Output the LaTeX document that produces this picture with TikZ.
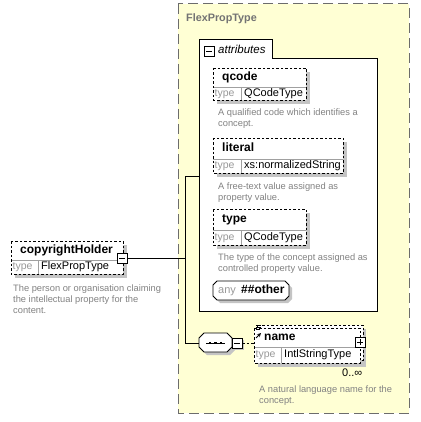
\documentclass[tikz,border=0pt]{standalone}
\usepackage{fontspec}
\setmainfont{Liberation Sans}
\definecolor{ylw}{HTML}{FFFFD4}
\definecolor{shd}{HTML}{C4C4C4}
\definecolor{desc}{HTML}{828282}
\definecolor{typel}{HTML}{999999}
\definecolor{divl}{HTML}{A0A0A0}
\tikzset{
  ebord/.style={draw=black, line width=0.8pt, dash pattern=on 2.5pt off 2pt},
  divline/.style={draw=divl, line width=0.7pt},
  shadowfill/.style={fill=shd, draw=none},
  ttl/.style={inner sep=0pt, anchor=mid west, font=\fontsize{12}{14}\selectfont\bfseries},
  tlab/.style={inner sep=0pt, anchor=mid west, text=typel, font=\fontsize{10.5}{12}\selectfont},
  tval/.style={inner sep=0pt, anchor=mid west, font=\fontsize{11}{13}\selectfont},
  dsc/.style={inner sep=0pt, anchor=base west, align=left, text=desc, font=\fontsize{9.3}{11}\selectfont},
  conn/.style={draw=black, line width=0.8pt},
  pmbox/.style={draw=black, fill=white, line width=0.8pt},
}
\newcommand\elembox[9]{% name, x1, y1, x2, ydiv, y2, xdiv, title, type
  \fill[shadowfill] (#2+4,#3+4) rectangle (#4+4,#6+4);
  \fill[white] (#2,#3) rectangle (#4,#6);
  \draw[divline] (#2,#5) -- (#4,#5);
  \draw[divline] (#7,#5) -- (#7,#6);
  \draw[ebord] (#2,#3) rectangle (#4,#6);
  \node[ttl] (#1-t) at (#2+9,{(#3+#5)/2}) {#8};
  \node[tlab] (#1-k) at (#2+1.5,{(#5+#6)/2}) {type};
  \node[tval] (#1-v) at (#7+3,{(#5+#6)/2}) {#9};
}
\begin{document}
\begin{tikzpicture}[x=1pt,y=-1pt]
\useasboundingbox (0,0) rectangle (420,422);
\fill[white] (0,0) rectangle (420,422);

% outer complex type box
\draw[fill=ylw, draw=gray!85!black, line width=1pt, dash pattern=on 10pt off 5pt] (178,4) rectangle (409,413);
\node[inner sep=0pt, anchor=mid west, text=gray!90!black, font=\fontsize{10.8}{12}\selectfont\bfseries] (cttitle) at (186,19) {FlexPropType};

% attributes group
\draw[fill=white, draw=black, line width=0.9pt] (199,311) -- (199,39) -- (272,39) -- (272,58) -- (377,58) -- (377,311) -- cycle;
\draw[pmbox] (204,46) rectangle (214,56);
\draw[line width=0.8pt] (206,51) -- (212,51);
\node[inner sep=0pt, anchor=mid west, font=\fontsize{11.5}{13}\selectfont\itshape] (attrlbl) at (218,50.5) {attributes};

% qcode
\elembox{qcode}{213}{68}{306}{87}{100}{241}{qcode}{QCodeType}
\node[dsc] (qcoded) at (218,127) {A qualified code which identifies a\\concept.};

% literal
\elembox{literal}{213}{138}{343}{159}{173}{241}{literal}{xs:normalizedString}
\node[dsc] (literald) at (218,200) {A free-text value assigned as\\property value.};

% type
\elembox{typeel}{213}{209}{306}{230}{245}{241}{type}{QCodeType}
\node[dsc] (typed) at (218,271) {The type of the concept assigned as\\controlled property value.};

% any ##other
\fill[shadowfill] (217+3,281+3) -- (285+3,281+3) -- (289+3,285+3) -- (289+3,296+3) -- (285+3,300+3) -- (217+3,300+3) -- (213+3,296+3) -- (213+3,285+3) -- cycle;
\draw[fill=white, line width=0.8pt] (217,281) -- (285,281) -- (289,285) -- (289,296) -- (285,300) -- (217,300) -- (213,296) -- (213,285) -- cycle;
\node[tlab, font=\fontsize{11}{13}\selectfont] (anyk) at (218,290.5) {any};
\node[ttl] (anyv) at (241,290.5) {\#\#other};

% copyrightHolder
\elembox{ch}{11}{241}{123}{260}{274}{38}{copyrightHolder}{FlexPropType}
\node[dsc] (chd) at (13,313) {The person or organisation claiming\\the intellectual property for the\\content.};
\draw[pmbox] (117,253) rectangle (127,263);
\draw[line width=0.8pt] (119,258) -- (125,258);
\coordinate (chout) at (127,258);

% connector tree
\coordinate (jmid) at (185,258);
\coordinate (jtop) at (185,176);
\coordinate (jbot) at (185,343);
\coordinate (attrin) at (199,176);
\coordinate (seqin) at (199,343);
\draw[conn] (chout) -- (jmid);
\draw[conn] (attrin) -- (jtop) -- (jbot) -- (seqin);

% sequence compositor
\fill[shadowfill] (204+3,333+3) -- (227+3,333+3) -- (232+3,338+3) -- (232+3,347+3) -- (227+3,352+3) -- (204+3,352+3) -- (199+3,347+3) -- (199+3,338+3) -- cycle;
\draw[fill=white, line width=0.8pt] (204,333) -- (227,333) -- (232,338) -- (232,347) -- (227,352) -- (204,352) -- (199,347) -- (199,338) -- cycle;
\draw[line width=0.8pt] (206,343) -- (225,343);
\foreach \dx in {210,215.5,221} \fill (\dx-1.4,341.6) rectangle (\dx+1.4,344.4);
\fill[shadowfill] (234,340) rectangle (244,350);
\draw[pmbox] (232,338) rectangle (242,348);
\draw[line width=0.8pt] (234,343) -- (240,343);
\coordinate (seqout) at (242,343);
\coordinate (namein) at (254,343);
\draw[line width=0.8pt, dash pattern=on 2.5pt off 2pt] (seqout) -- (namein);

% name element (repeating)
\fill[shadowfill] (258,329) rectangle (366,367);
\draw[ebord, fill=white] (257,325) rectangle (363,360);
\fill[white] (254,328) rectangle (360,363);
\draw[divline] (254,347) -- (360,347);
\draw[divline] (281,347) -- (281,363);
\draw[ebord] (254,328) rectangle (360,363);
\node[ttl] (name-t) at (264,337.5) {name};
\node[tlab] (name-k) at (255.5,355) {type};
\node[tval] (name-v) at (284,355) {IntlStringType};
\draw[line width=0.6pt] (256,325.5) -- (261,325.5) (256,327.5) -- (261,327.5) (256,329.5) -- (260,329.5);
\draw[line width=0.8pt, -stealth] (256,338) -- (261,333);
\draw[pmbox] (355,337) rectangle (365,347);
\draw[line width=0.8pt] (357,342) -- (363,342) (360,339) -- (360,345);
\node[inner sep=0pt, anchor=mid west, font=\fontsize{11}{13}\selectfont] (namecard) at (342,374) {0..∞};
\node[dsc] (named) at (259,403) {A natural language name for the\\concept.};
\end{tikzpicture}
\end{document}
